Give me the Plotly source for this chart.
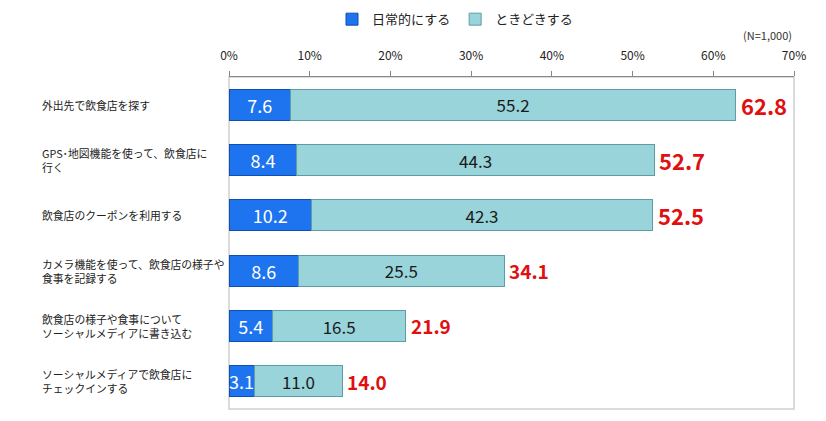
import plotly.graph_objects as go

FONT = "Noto Sans CJK JP"

categories = [
    "外出先で飲食店を探す",
    "GPS･地図機能を使って、飲食店に<br>行く",
    "飲食店のクーポンを利用する",
    "カメラ機能を使って、飲食店の様子や<br>食事を記録する",
    "飲食店の様子や食事について<br>ソーシャルメディアに書き込む",
    "ソーシャルメディアで飲食店に<br>チェックインする",
]
daily = [7.6, 8.4, 10.2, 8.6, 5.4, 3.1]
sometimes = [55.2, 44.3, 42.3, 25.5, 16.5, 11.0]
totals = [62.8, 52.7, 52.5, 34.1, 21.9, 14.0]
tick_vals = [0, 10, 20, 30, 40, 50, 60, 70]
tick_text = [f"{v}%" for v in tick_vals]

fig = go.Figure()
fig.add_trace(go.Bar(
    y=categories, x=daily, orientation="h", name="日常的にする",
    marker=dict(color="#1E74EE", line=dict(color="#0E4FB0", width=1)),
    text=[f"{v:.1f}" for v in daily], textposition="inside", insidetextanchor="middle",
    textangle=0, textfont=dict(color="white", size=18, family=FONT), constraintext="none",
))
fig.add_trace(go.Bar(
    y=categories, x=sometimes, orientation="h", name="ときどきする",
    marker=dict(color="#98D4DA", line=dict(color="#5E9DA5", width=1)),
    text=[f"{v:.1f}" for v in sometimes], textposition="inside", insidetextanchor="middle",
    textangle=0, textfont=dict(color="#1a1a1a", size=17, family=FONT), constraintext="none",
))

# totals in red to the right of each bar
for cat, t in zip(categories, totals):
    size = 22 if t > 50 else 19
    fig.add_annotation(x=t, y=cat, text=f"<b>{t:.1f}</b>", showarrow=False,
                       xanchor="left", xshift=3,
                       font=dict(color="#E01010", size=size, family=FONT))

# category labels left-aligned
for cat in categories:
    fig.add_annotation(x=-0.335, y=cat, xref="paper", yref="y", text=cat, showarrow=False,
                       xanchor="left", align="left",
                       font=dict(color="#222", size=10.8, family=FONT))

fig.add_annotation(x=1.0, y=1.0, xref="paper", yref="paper", yshift=42, text="(N=1,000)",
                   showarrow=False, xanchor="right", yanchor="middle",
                   font=dict(color="#333", size=11, family=FONT))

fig.update_layout(
    width=826, height=421,
    barmode="stack", bargap=0.44,
    margin=dict(l=229, r=32, t=70, b=12),
    plot_bgcolor="white", paper_bgcolor="white",
    font=dict(family=FONT, size=12, color="#222"),
    showlegend=True,
    legend=dict(orientation="h", x=0.40, xanchor="center", y=0.99, yanchor="top", yref="container",
                font=dict(size=13, family=FONT), traceorder="normal", itemwidth=30),
    xaxis=dict(side="top", range=[0, 70], tickvals=tick_vals, ticktext=tick_text,
               showgrid=False, zeroline=False, showline=True, linecolor="#888", linewidth=1,
               ticks="outside", ticklen=5, tickcolor="#888", tickfont=dict(size=12),
               ticklabelstandoff=6),
    yaxis=dict(autorange="reversed", showticklabels=False, showgrid=False, zeroline=False,
               showline=False),
)
fig.add_shape(type="rect", xref="paper", yref="paper", x0=0, x1=1, y0=0, y1=1,
              line=dict(color="#D0D0D0", width=1.5), layer="below")

fig.write_html("out.html", config={"displayModeBar": False},
               post_script="document.body.style.margin='0';")
